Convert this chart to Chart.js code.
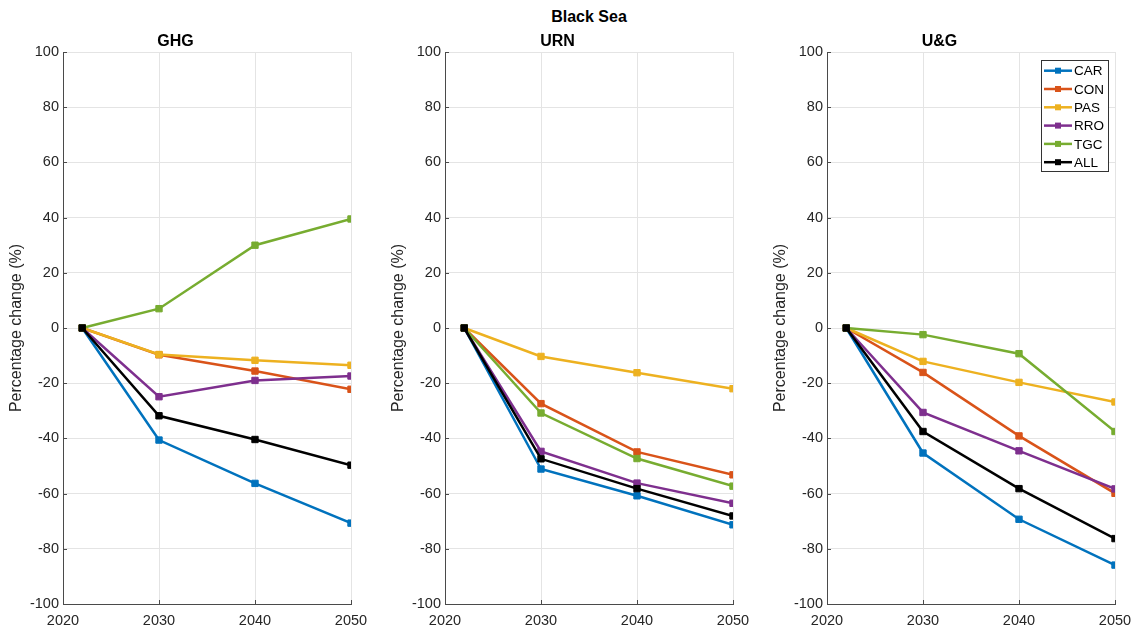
<!DOCTYPE html>
<html>
<head>
<meta charset="utf-8">
<script src="https://cdn.jsdelivr.net/npm/chart.js@4"></script>
<style>
html, body { margin: 0; padding: 0; background: #fff; overflow: hidden; }
#wrap { position: relative; width: 1131px; height: 627px; }
.panel { position: absolute; top: 0; width: 370px; height: 627px; }
#suptitle {
    position: absolute; left: 489px; width: 200px; top: 8px;
    text-align: center; line-height: 20px; color: #000;
    font: bold 16px "Liberation Sans", Arial, sans-serif;
}
</style>
</head>
<body>
<div id="wrap">
    <div id="suptitle">Black Sea</div>
    <div class="panel" style="left:0px"><canvas id="ghgChart" width="370" height="627"></canvas></div>
    <div class="panel" style="left:382px"><canvas id="urnChart" width="370" height="627"></canvas></div>
    <div class="panel" style="left:764px"><canvas id="ugChart" width="370" height="627"></canvas></div>
</div>
<script>
const years = [2022, 2030, 2040, 2050];
const seriesNames = ['CAR', 'CON', 'PAS', 'RRO', 'TGC', 'ALL'];
const seriesColors = ['#0072BD', '#D95319', '#EDB120', '#7E2F8E', '#77AC30', '#000000'];

// rows follow seriesNames
const ghgValues = [
    [0, -40.6, -56.3, -70.7],
    [0, -9.7, -15.6, -22.2],
    [0, -9.6, -11.7, -13.5],
    [0, -24.9, -19.0, -17.4],
    [0, 7.0, 30.0, 39.5],
    [0, -31.8, -40.4, -49.7]
];
const urnValues = [
    [0, -51.1, -60.8, -71.3],
    [0, -27.4, -44.9, -53.2],
    [0, -10.3, -16.2, -22.0],
    [0, -44.7, -56.2, -63.5],
    [0, -30.8, -47.3, -57.3],
    [0, -47.4, -58.2, -68.1]
];
const ugValues = [
    [0, -45.3, -69.3, -85.9],
    [0, -16.1, -39.1, -59.9],
    [0, -12.1, -19.7, -26.8],
    [0, -30.6, -44.5, -58.3],
    [0, -2.4, -9.3, -37.5],
    [0, -37.5, -58.2, -76.3]
];

const fontFamily = '"Liberation Sans", Arial, Helvetica, sans-serif';
const axisColor = '#4a4a4a';
const gridColor = '#e4e4e4';
const textColor = '#262626';

// MATLAB style ticks pointing into the axes
const innerTicks = {
    id: 'innerTicks',
    afterDatasetsDraw(chart) {
        const ctx = chart.ctx;
        const area = chart.chartArea;
        const xs = chart.scales.x, ys = chart.scales.y;
        ctx.save();
        ctx.strokeStyle = axisColor;
        ctx.lineWidth = 1;
        ctx.beginPath();
        ys.ticks.forEach(t => {
            const y = Math.round(ys.getPixelForValue(t.value)) + 0.5;
            ctx.moveTo(area.left, y);
            ctx.lineTo(area.left + 4, y);
        });
        xs.ticks.forEach(t => {
            const x = Math.round(xs.getPixelForValue(t.value)) + 0.5;
            ctx.moveTo(x, area.bottom);
            ctx.lineTo(x, area.bottom - 4);
        });
        ctx.stroke();
        ctx.restore();
    }
};

const legendBox = {
    id: 'legendBox',
    afterDraw(chart) {
        const ctx = chart.ctx;
        const area = chart.chartArea;
        const w = 67, h = 111;
        const left = area.right - 7 - w;
        const top = area.top + 8;
        ctx.save();
        ctx.fillStyle = '#fff';
        ctx.fillRect(left, top, w, h);
        ctx.strokeStyle = '#333';
        ctx.lineWidth = 1;
        ctx.strokeRect(Math.round(left) + 0.5, Math.round(top) + 0.5, w, h);
        ctx.font = '13.5px ' + fontFamily;
        ctx.textBaseline = 'middle';
        ctx.textAlign = 'left';
        chart.data.datasets.forEach((ds, i) => {
            const y = top + 10.7 + i * 18.3;
            ctx.strokeStyle = ds.borderColor;
            ctx.lineWidth = 2.5;
            ctx.beginPath();
            ctx.moveTo(left + 3, y);
            ctx.lineTo(left + 31, y);
            ctx.stroke();
            ctx.fillStyle = ds.borderColor;
            ctx.fillRect(left + 17 - 3, y - 3, 6, 6);
            ctx.fillStyle = '#000';
            ctx.fillText(ds.label, left + 33, y + 1);
        });
        ctx.restore();
    }
};

function makeChart(id, title, values, showLegend) {
    const datasets = values.map((vals, i) => ({
        label: seriesNames[i],
        data: years.map((yr, j) => ({ x: yr, y: vals[j] })),
        borderColor: seriesColors[i],
        backgroundColor: seriesColors[i],
        borderWidth: 2.5,
        pointStyle: 'rect',
        pointRadius: 4.5,
        pointBorderWidth: 1,
        order: values.length - i,
        tension: 0
    }));

    return new Chart(document.getElementById(id), {
        type: 'line',
        data: { datasets: datasets },
        options: {
            responsive: false,
            animation: false,
            events: [],
            layout: { padding: { left: 0, right: 19, top: 0, bottom: 0 } },
            plugins: {
                legend: { display: false },
                tooltip: { enabled: false },
                title: {
                    display: true,
                    text: title,
                    color: '#000',
                    font: { family: fontFamily, size: 16, weight: 'bold' },
                    padding: { top: 32.4, bottom: 0.4 }
                }
            },
            scales: {
                x: {
                    type: 'linear',
                    min: 2020,
                    max: 2050,
                    ticks: {
                        stepSize: 10,
                        color: textColor,
                        padding: 8,
                        font: { family: fontFamily, size: 14.5 },
                        callback: v => String(v)
                    },
                    grid: { color: gridColor, drawTicks: false },
                    border: { color: axisColor, width: 1 },
                    afterFit: s => {
                        s.height = 23;
                        s.paddingLeft = 0;
                        s.paddingRight = 0;
                    }
                },
                y: {
                    min: -100,
                    max: 100,
                    ticks: {
                        stepSize: 20,
                        color: textColor,
                        padding: 4,
                        font: { family: fontFamily, size: 14.5 },
                        callback: v => String(v)
                    },
                    grid: { color: gridColor, drawTicks: false },
                    border: { color: axisColor, width: 1 },
                    title: {
                        display: true,
                        text: 'Percentage change (%)',
                        color: textColor,
                        font: { family: fontFamily, size: 16 },
                        padding: { top: 7, bottom: 0 }
                    },
                    afterFit: s => { s.width = 63; }
                }
            }
        },
        plugins: showLegend ? [innerTicks, legendBox] : [innerTicks]
    });
}

makeChart('ghgChart', 'GHG', ghgValues, false);
makeChart('urnChart', 'URN', urnValues, false);
makeChart('ugChart', 'U&G', ugValues, true);
</script>
</body>
</html>
